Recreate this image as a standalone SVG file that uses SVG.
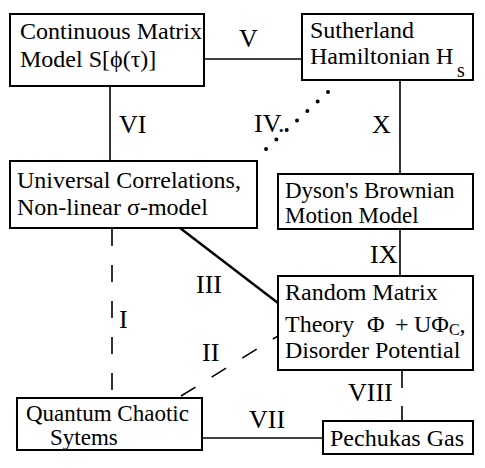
<svg xmlns="http://www.w3.org/2000/svg" width="485" height="468" viewBox="0 0 485 468">
<style>
.box{fill:#fff;stroke:#000;stroke-width:2}
.t{font-family:"Liberation Serif","Times New Roman",serif;font-size:24px;fill:#000}
.s{font-size:23px}
.lbl{font-family:"Liberation Serif","Times New Roman",serif;font-size:26px;fill:#000}
.c{stroke:#000;stroke-width:1.6;fill:none}
.thick{stroke-width:2.4}
.dash{stroke-dasharray:17 19}
.dot{stroke-width:4;stroke-linecap:round;stroke-dasharray:0 14.03}
</style>
<rect width="485" height="468" fill="#fff"/>
<g id="connectors">
<line class="c" x1="204" y1="59" x2="302" y2="59"/>
<line class="c" x1="110" y1="86" x2="110" y2="161"/>
<line class="c" x1="400" y1="80" x2="400" y2="174"/>
<line class="c dot" x1="328" y1="92" x2="266" y2="149"/>
<line class="c" x1="400" y1="229" x2="400" y2="276"/>
<line class="c thick" x1="180" y1="228" x2="278" y2="303"/>
<line class="c dash" x1="112" y1="229" x2="112" y2="398"/>
<line class="c dash" x1="181" y1="396" x2="278" y2="336"/>
<line class="c" x1="402" y1="370" x2="402" y2="388"/>
<line class="c" x1="402" y1="406" x2="402" y2="421"/>
<line class="c" x1="202" y1="438" x2="323" y2="438"/>
<text class="lbl" x="239" y="47">V</text>
<text class="lbl" x="119" y="133">VI</text>
<text class="lbl" x="254" y="132">IV.</text>
<text class="lbl" x="372" y="133">X</text>
<text class="lbl" x="370" y="263">IX</text>
<text class="lbl" x="196" y="293">III</text>
<text class="lbl" x="119" y="328">I</text>
<text class="lbl" x="202" y="361">II</text>
<text class="lbl" x="348" y="401">VIII</text>
<text class="lbl" x="249" y="428">VII</text>
</g>
<g id="continuous">
<rect class="box" x="10" y="14" width="194" height="72"/>
<text class="t" x="20" y="39">Continuous Matrix</text>
<text class="t" x="20" y="67">Model S[ϕ(τ)]</text>
</g>
<g id="sutherland">
<rect class="box" x="302" y="14" width="171" height="66"/>
<text class="t" x="310" y="38">Sutherland</text>
<text class="t" x="310" y="64">Hamiltonian H<tspan x="457" y="77" font-size="20">s</tspan></text>
</g>
<g id="universal">
<rect class="box" x="10" y="161" width="247" height="67"/>
<text class="t" x="17" y="188">Universal Correlations,</text>
<text class="t" x="17" y="215">Non-linear σ-model</text>
</g>
<g id="dyson">
<rect class="box" x="278" y="174" width="195" height="55"/>
<text class="t s" x="285" y="198">Dyson's Brownian</text>
<text class="t s" x="285" y="223">Motion Model</text>
</g>
<g id="random">
<rect class="box" x="278" y="276" width="195" height="94"/>
<text class="t" x="285" y="300">Random Matrix</text>
<text class="t" x="285" y="332">Theory<tspan x="367">Φ</tspan><tspan x="395">+</tspan><tspan x="414">UΦ</tspan><tspan font-size="16" dy="3">C</tspan><tspan dy="-3">,</tspan></text>
<text class="t" x="285" y="358">Disorder Potential</text>
</g>
<g id="quantum">
<rect class="box" x="17" y="398" width="185" height="52"/>
<text class="t s" x="26" y="421">Quantum Chaotic</text>
<text class="t s" x="50" y="445">Sytems</text>
</g>
<g id="pechukas">
<rect class="box" x="323" y="421" width="150" height="33"/>
<text class="t" x="330" y="446">Pechukas Gas</text>
</g>
</svg>
